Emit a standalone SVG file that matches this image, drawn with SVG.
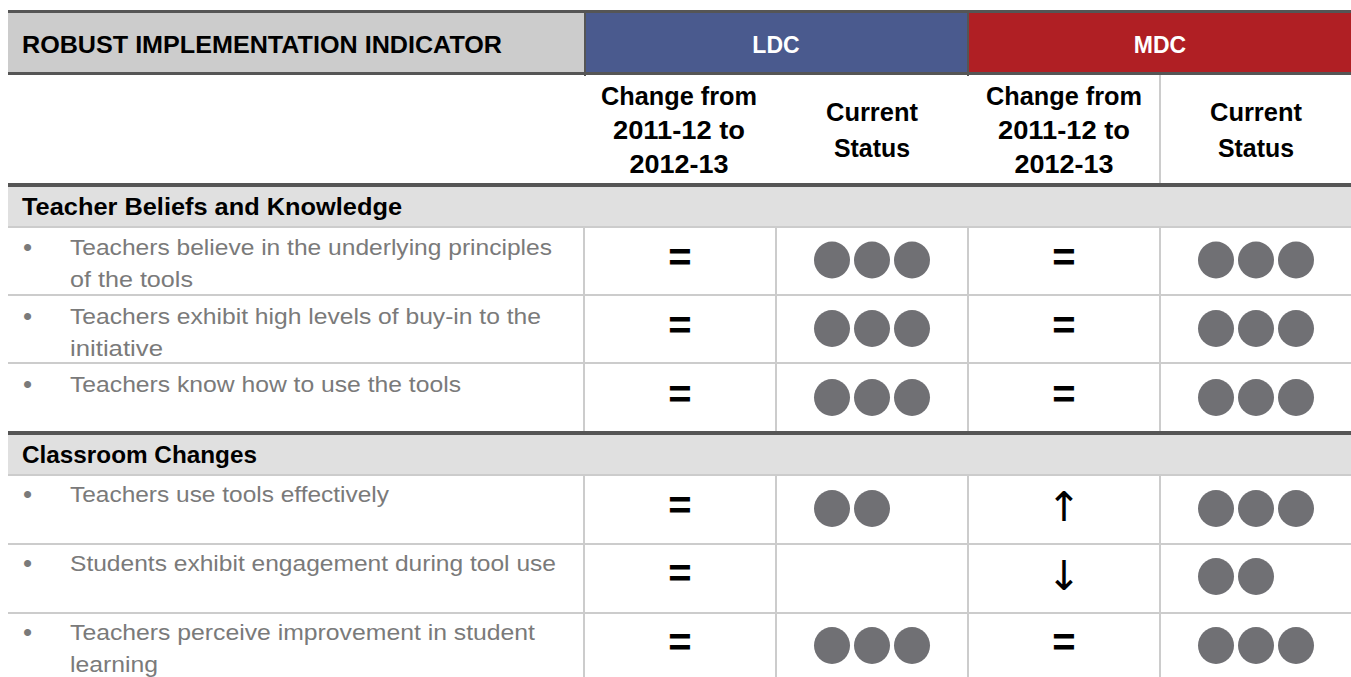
<svg xmlns="http://www.w3.org/2000/svg" width="1351" height="677" viewBox="0 0 1351 677">
<style>
.hd{font-family:"Liberation Sans",Arial,sans-serif;font-weight:bold;font-size:24px;fill:#000}
.hw{font-family:"Liberation Sans",Arial,sans-serif;font-weight:bold;font-size:23px;fill:#fff;text-anchor:middle}
.sh{font-family:"Liberation Sans",Arial,sans-serif;font-weight:bold;font-size:25px;fill:#000;text-anchor:middle}
.sec{font-family:"Liberation Sans",Arial,sans-serif;font-weight:bold;font-size:24px;fill:#000}
.bt{font-family:"Liberation Sans",Arial,sans-serif;font-size:22px;fill:#7a7a7a}
.bu{font-family:"Liberation Sans",Arial,sans-serif;font-size:26px;fill:#7a7a7a}
.eq{font-family:"Liberation Sans",Arial,sans-serif;font-weight:bold;font-size:40px;fill:#000;text-anchor:middle}
.ar{font-family:"DejaVu Sans",sans-serif;font-size:41px;fill:#000;text-anchor:middle}
.dot{fill:#707074}
.thick{fill:#555555}
.thin{fill:#cccccc}
</style>
<rect x="0" y="0" width="1351" height="677" fill="#fff"/>
<g id="grid">
<rect x="8" y="13" width="576" height="59" fill="#cccccc"/>
<rect x="586" y="13" width="381" height="59" fill="#4a5a8e"/>
<rect x="969" y="13" width="382" height="59" fill="#b01f24"/>
<rect class="thick" x="8" y="10" width="1343" height="3"/>
<rect class="thick" x="8" y="72" width="1343" height="3"/>
<rect class="thick" x="584" y="13" width="2" height="63"/>
<rect class="thick" x="967" y="13" width="2" height="63"/>
<rect class="thin" x="1159" y="75" width="2" height="108"/>
<rect class="thick" x="8" y="183" width="1343" height="4"/>
<rect x="8" y="187" width="1343" height="39" fill="#e0e0e0"/>
<rect class="thin" x="8" y="226" width="1343" height="2"/>
<rect class="thin" x="8" y="294" width="1343" height="2"/>
<rect class="thin" x="8" y="362" width="1343" height="2"/>
<rect class="thick" x="8" y="431" width="1343" height="4"/>
<rect x="8" y="435" width="1343" height="39" fill="#e0e0e0"/>
<rect class="thin" x="8" y="474" width="1343" height="2"/>
<rect class="thin" x="8" y="543" width="1343" height="2"/>
<rect class="thin" x="8" y="612" width="1343" height="2"/>
<rect class="thin" x="583" y="228" width="2" height="203"/>
<rect class="thin" x="775" y="228" width="2" height="203"/>
<rect class="thin" x="967" y="228" width="2" height="203"/>
<rect class="thin" x="1159" y="228" width="2" height="203"/>
<rect class="thin" x="583" y="476" width="2" height="201"/>
<rect class="thin" x="775" y="476" width="2" height="201"/>
<rect class="thin" x="967" y="476" width="2" height="201"/>
<rect class="thin" x="1159" y="476" width="2" height="201"/>
</g>
<g id="header">
<text class="hd" x="22" y="53" textLength="480" lengthAdjust="spacingAndGlyphs">ROBUST IMPLEMENTATION INDICATOR</text>
<text class="hw" x="776" y="53">LDC</text>
<text class="hw" x="1160" y="53">MDC</text>
</g>
<g id="subheader">
<text class="sh" x="679" y="105" textLength="156" lengthAdjust="spacingAndGlyphs">Change from</text>
<text class="sh" x="679" y="139" textLength="132" lengthAdjust="spacingAndGlyphs">2011-12 to</text>
<text class="sh" x="679" y="173" textLength="99" lengthAdjust="spacingAndGlyphs">2012-13</text>
<text class="sh" x="872" y="121" textLength="92" lengthAdjust="spacingAndGlyphs">Current</text>
<text class="sh" x="872" y="157" textLength="76" lengthAdjust="spacingAndGlyphs">Status</text>
<text class="sh" x="1064" y="105" textLength="156" lengthAdjust="spacingAndGlyphs">Change from</text>
<text class="sh" x="1064" y="139" textLength="132" lengthAdjust="spacingAndGlyphs">2011-12 to</text>
<text class="sh" x="1064" y="173" textLength="99" lengthAdjust="spacingAndGlyphs">2012-13</text>
<text class="sh" x="1256" y="121" textLength="92" lengthAdjust="spacingAndGlyphs">Current</text>
<text class="sh" x="1256" y="157" textLength="76" lengthAdjust="spacingAndGlyphs">Status</text>
</g>
<g id="section-beliefs">
<text class="sec" x="22" y="215" textLength="380" lengthAdjust="spacingAndGlyphs">Teacher Beliefs and Knowledge</text>
</g>
<g id="row1">
<text class="bu" x="23" y="256">•</text>
<text class="bt" x="70" y="255" textLength="482" lengthAdjust="spacingAndGlyphs">Teachers believe in the underlying principles</text>
<text class="bt" x="70" y="287" textLength="123" lengthAdjust="spacingAndGlyphs">of the tools</text>
<text class="eq" x="680" y="271">=</text>
<ellipse class="dot" cx="832" cy="260" rx="18" ry="18.5"/><ellipse class="dot" cx="872" cy="260" rx="18" ry="18.5"/><ellipse class="dot" cx="912" cy="260" rx="18" ry="18.5"/>
<text class="eq" x="1064" y="271">=</text>
<ellipse class="dot" cx="1216" cy="260" rx="18" ry="18.5"/><ellipse class="dot" cx="1256" cy="260" rx="18" ry="18.5"/><ellipse class="dot" cx="1296" cy="260" rx="18" ry="18.5"/>
</g>
<g id="row2">
<text class="bu" x="23" y="325">•</text>
<text class="bt" x="70" y="324" textLength="471" lengthAdjust="spacingAndGlyphs">Teachers exhibit high levels of buy-in to the</text>
<text class="bt" x="70" y="356" textLength="93" lengthAdjust="spacingAndGlyphs">initiative</text>
<text class="eq" x="680" y="339">=</text>
<ellipse class="dot" cx="832" cy="328.5" rx="18" ry="18.5"/><ellipse class="dot" cx="872" cy="328.5" rx="18" ry="18.5"/><ellipse class="dot" cx="912" cy="328.5" rx="18" ry="18.5"/>
<text class="eq" x="1064" y="339">=</text>
<ellipse class="dot" cx="1216" cy="328.5" rx="18" ry="18.5"/><ellipse class="dot" cx="1256" cy="328.5" rx="18" ry="18.5"/><ellipse class="dot" cx="1296" cy="328.5" rx="18" ry="18.5"/>
</g>
<g id="row3">
<text class="bu" x="23" y="393">•</text>
<text class="bt" x="70" y="392" textLength="391" lengthAdjust="spacingAndGlyphs">Teachers know how to use the tools</text>
<text class="eq" x="680" y="408">=</text>
<ellipse class="dot" cx="832" cy="397.5" rx="18" ry="18.5"/><ellipse class="dot" cx="872" cy="397.5" rx="18" ry="18.5"/><ellipse class="dot" cx="912" cy="397.5" rx="18" ry="18.5"/>
<text class="eq" x="1064" y="408">=</text>
<ellipse class="dot" cx="1216" cy="397.5" rx="18" ry="18.5"/><ellipse class="dot" cx="1256" cy="397.5" rx="18" ry="18.5"/><ellipse class="dot" cx="1296" cy="397.5" rx="18" ry="18.5"/>
</g>
<g id="section-classroom">
<text class="sec" x="22" y="463" textLength="235" lengthAdjust="spacingAndGlyphs">Classroom Changes</text>
</g>
<g id="row4">
<text class="bu" x="23" y="503">•</text>
<text class="bt" x="70" y="502" textLength="319" lengthAdjust="spacingAndGlyphs">Teachers use tools effectively</text>
<text class="eq" x="680" y="519">=</text>
<ellipse class="dot" cx="832" cy="508.5" rx="18" ry="18.5"/><ellipse class="dot" cx="872" cy="508.5" rx="18" ry="18.5"/>
<text class="ar" x="1064" y="521">↑</text>
<ellipse class="dot" cx="1216" cy="508.5" rx="18" ry="18.5"/><ellipse class="dot" cx="1256" cy="508.5" rx="18" ry="18.5"/><ellipse class="dot" cx="1296" cy="508.5" rx="18" ry="18.5"/>
</g>
<g id="row5">
<text class="bu" x="23" y="572">•</text>
<text class="bt" x="70" y="571" textLength="486" lengthAdjust="spacingAndGlyphs">Students exhibit engagement during tool use</text>
<text class="eq" x="680" y="587">=</text>
<text class="ar" x="1064" y="590">↓</text>
<ellipse class="dot" cx="1216" cy="576.5" rx="18" ry="18.5"/><ellipse class="dot" cx="1256" cy="576.5" rx="18" ry="18.5"/>
</g>
<g id="row6">
<text class="bu" x="23" y="641">•</text>
<text class="bt" x="70" y="640" textLength="465" lengthAdjust="spacingAndGlyphs">Teachers perceive improvement in student</text>
<text class="bt" x="70" y="672" textLength="88" lengthAdjust="spacingAndGlyphs">learning</text>
<text class="eq" x="680" y="656">=</text>
<ellipse class="dot" cx="832" cy="645.5" rx="18" ry="18.5"/><ellipse class="dot" cx="872" cy="645.5" rx="18" ry="18.5"/><ellipse class="dot" cx="912" cy="645.5" rx="18" ry="18.5"/>
<text class="eq" x="1064" y="656">=</text>
<ellipse class="dot" cx="1216" cy="645.5" rx="18" ry="18.5"/><ellipse class="dot" cx="1256" cy="645.5" rx="18" ry="18.5"/><ellipse class="dot" cx="1296" cy="645.5" rx="18" ry="18.5"/>
</g>
<g id="connectors"></g>
</svg>
